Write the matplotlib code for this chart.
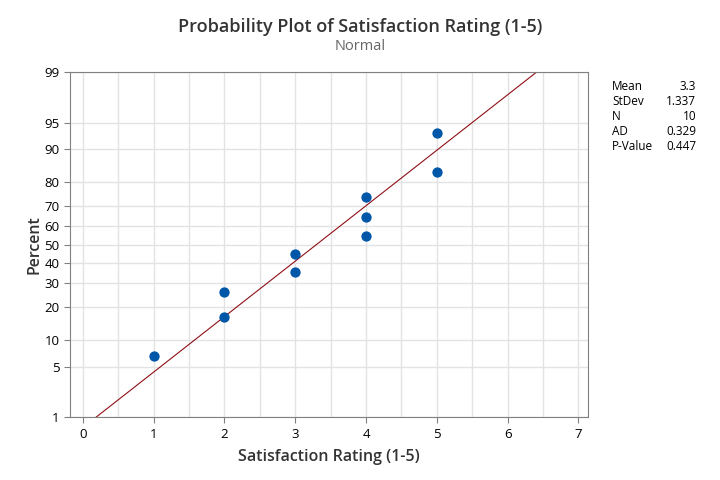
import matplotlib
matplotlib.use("Agg")
import matplotlib.pyplot as plt
from statistics import NormalDist

# data
rating = [1, 2, 2, 3, 3, 4, 4, 4, 5, 5]
percent = [6.7, 16.3, 26.0, 35.6, 45.2, 54.8, 64.4, 74.0, 83.7, 93.3]
ytick_pct = [1, 5, 10, 20, 30, 40, 50, 60, 70, 80, 90, 95, 99]
xticks = [0, 1, 2, 3, 4, 5, 6, 7]
stat_names = ["Mean", "StDev", "N", "AD", "P-Value"]
stat_vals = ["3.3", "1.337", "10", "0.329", "0.447"]
mean, sd = 3.3, 1.337

nd = NormalDist()
def z(p):
    return nd.inv_cdf(p / 100.0)

plt.rcParams['font.family'] = ['Open Sans', 'DejaVu Sans']

fig = plt.figure(figsize=(7.2, 4.8), dpi=100)
ax = fig.add_axes([0.0972, 0.131, 0.72, 0.719])

# grid
for p in ytick_pct:
    ax.axhline(z(p), color='#e3e3e3', lw=1, zorder=0)
for xv in [i * 0.5 for i in range(0, 15)]:
    ax.axvline(xv, color='#e3e3e3', lw=1, zorder=0)

# fitted line
zlo, zhi = z(1), z(99)
ax.plot([mean + sd * zlo, mean + sd * zhi], [zlo, zhi], color='#8e0f16', lw=0.8, zorder=2)

ax.scatter(rating, [z(p) for p in percent], s=55, color='#0057a8', zorder=3, linewidths=0)

ax.set_xlim(-0.18, 7.14)
ax.set_ylim(zlo, zhi)
ax.set_yticks([z(p) for p in ytick_pct])
ax.set_yticklabels([str(p) for p in ytick_pct])
ax.set_xticks(xticks)

for s in ax.spines.values():
    s.set_color('#808080')
ax.tick_params(axis='both', colors='#808080', labelcolor='black', labelsize=9.5, length=4)

ax.set_xlabel("Satisfaction Rating (1-5)", fontsize=11.5, color='#333333', fontweight='semibold', labelpad=6)
ax.set_ylabel("Percent", fontsize=11.5, color='#333333', fontweight='semibold', labelpad=1)

fig.text(0.5, 0.943, "Probability Plot of Satisfaction Rating (1-5)", ha='center', va='center',
         fontsize=13, color='#333333', fontweight='semibold')
fig.text(0.5, 0.903, "Normal", ha='center', va='center', fontsize=10.5, color='#666666')

for i, (n, v) in enumerate(zip(stat_names, stat_vals)):
    yy = 0.82 - i * 0.0313
    fig.text(0.85, yy, n, ha='left', va='center', fontsize=8.5, color='black')
    fig.text(0.967, yy, v, ha='right', va='center', fontsize=8.5, color='black')

fig.savefig("out.png", dpi=100)
